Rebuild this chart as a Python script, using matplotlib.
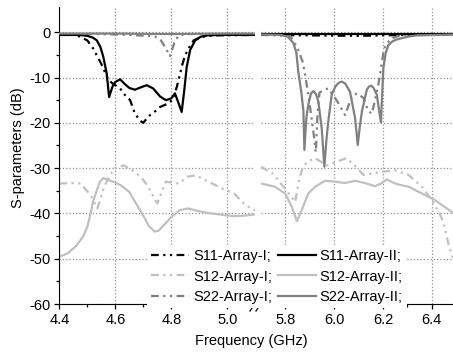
import matplotlib.pyplot as plt
from matplotlib.lines import Line2D

plt.rcParams['font.family'] = ['Liberation Sans', 'DejaVu Sans']
plt.rcParams['axes.unicode_minus'] = False

# ---- lower band, 4.4 - 5.1 GHz ----
s11_1_lo_f = [4.40, 4.46, 4.50, 4.52, 4.55, 4.575, 4.59, 4.617, 4.635, 4.653, 4.67, 4.69, 4.70,
              4.713, 4.724, 4.748, 4.76, 4.79, 4.806, 4.82, 4.83, 4.84, 4.85, 4.867, 4.88, 4.91, 4.95, 5.10]
s11_1_lo_db = [-0.6, -0.6, -1.8, -3.5, -7.0, -10.5, -11.3, -12.4, -13.9, -15.0, -18.0, -19.6, -20.0,
               -19.0, -18.3, -17.2, -16.5, -15.7, -14.8, -12.0, -9.5, -7.0, -5.0, -3.0, -1.8, -1.0, -0.7, -0.6]

s11_2_lo_f = [4.40, 4.47, 4.50, 4.52, 4.534, 4.547, 4.557, 4.569, 4.578, 4.59, 4.60, 4.617, 4.635,
              4.65, 4.67, 4.69, 4.712, 4.735, 4.76, 4.781, 4.80, 4.813, 4.825, 4.837, 4.846, 4.855,
              4.867, 4.885, 4.905, 4.93, 4.97, 5.10]
s11_2_lo_db = [-0.6, -0.6, -0.8, -1.2, -1.8, -3.3, -5.4, -9.0, -14.3, -12.0, -11.0, -10.4, -11.5,
               -12.3, -12.7, -12.2, -11.7, -12.4, -14.2, -15.0, -14.6, -13.5, -15.5, -17.6, -13.0, -7.7,
               -4.0, -1.8, -1.0, -0.7, -0.6, -0.6]

s12_1_lo_f = [4.40, 4.446, 4.476, 4.512, 4.536, 4.56, 4.595, 4.631, 4.661, 4.691, 4.714, 4.75, 4.78,
              4.827, 4.857, 4.887, 4.923, 4.982, 5.024, 5.054, 5.084, 5.10]
s12_1_lo_db = [-33.4, -33.3, -33.4, -36.0, -38.9, -34.1, -30.1, -29.4, -30.5, -31.9, -33.8, -37.8, -33.0,
               -33.4, -31.9, -31.6, -32.7, -34.5, -35.6, -37.5, -38.9, -39.3]

s12_2_lo_f = [4.40, 4.43, 4.46, 4.486, 4.50, 4.51, 4.52, 4.534, 4.545, 4.557, 4.575, 4.60, 4.62,
              4.649, 4.676, 4.70, 4.72, 4.74, 4.755, 4.775, 4.80, 4.83, 4.86, 4.89, 4.93, 4.98, 5.02,
              5.06, 5.10]
s12_2_lo_db = [-49.6, -48.8, -47.2, -45.0, -43.0, -40.5, -37.5, -34.9, -33.0, -32.2, -32.6, -33.2, -33.8,
               -35.2, -38.0, -40.5, -42.8, -44.0, -43.8, -42.5, -40.8, -39.3, -38.9, -39.4, -39.9, -40.3,
               -40.6, -40.5, -40.2]

s22_1_lo_f = [4.40, 4.55, 4.65, 4.74, 4.76, 4.78, 4.795, 4.81, 4.825, 4.85, 5.10]
s22_1_lo_db = [-0.4, -0.4, -0.6, -0.9, -1.5, -3.5, -5.3, -2.5, -0.8, -0.4, -0.4]

s22_2_lo_f = [4.40, 4.60, 4.80, 5.00, 5.10]
s22_2_lo_db = [-0.3, -0.3, -0.4, -0.3, -0.3]

# ---- upper band, 5.7 - 6.5 GHz ----
s11_1_hi_f = [5.70, 5.90, 6.10, 6.30, 6.50]
s11_1_hi_db = [-0.6, -0.7, -0.8, -0.6, -0.5]

s11_2_hi_f = [5.70, 5.90, 6.10, 6.30, 6.50]
s11_2_hi_db = [-0.3, -0.3, -0.3, -0.3, -0.3]

s12_1_hi_f = [5.70, 5.75, 5.78, 5.82, 5.84, 5.855, 5.87, 5.89, 5.922, 5.97, 6.025, 6.05, 6.09, 6.12,
              6.20, 6.25, 6.305, 6.36, 6.40, 6.43, 6.45, 6.47, 6.50]
s12_1_hi_db = [-29.7, -31.3, -33.3, -36.0, -37.5, -33.0, -30.0, -28.6, -27.8, -29.4, -28.3, -27.8, -29.7,
               -31.5, -30.8, -30.5, -31.5, -34.1, -37.0, -39.7, -42.2, -47.0, -52.0]

s12_2_hi_f = [5.70, 5.757, 5.799, 5.826, 5.847, 5.867, 5.894, 5.922, 5.963, 6.004, 6.045, 6.086, 6.127,
              6.168, 6.196, 6.216, 6.25, 6.278, 6.305, 6.36, 6.415, 6.483, 6.50]
s12_2_hi_db = [-33.4, -34.1, -35.6, -38.5, -41.7, -39.3, -35.6, -34.1, -32.8, -33.0, -33.3, -32.8, -33.3,
               -34.0, -33.3, -32.5, -33.4, -33.8, -34.1, -35.6, -37.1, -39.7, -40.3]

s22_1_hi_f = [5.70, 5.82, 5.85, 5.87, 5.88, 5.89, 5.90, 5.915, 5.925, 5.932, 5.94, 5.975, 6.01, 6.045,
              6.074, 6.094, 6.12, 6.14, 6.155, 6.18, 6.19, 6.205, 6.23, 6.27, 6.50]
s22_1_hi_db = [-0.5, -0.8, -3.5, -6.4, -9.0, -12.5, -16.0, -22.0, -26.5, -18.0, -13.3, -12.4, -15.0, -18.3,
               -14.0, -13.5, -14.5, -17.4, -18.0, -12.0, -8.7, -3.6, -1.5, -0.7, -0.5]

s22_2_hi_f = [5.70, 5.78, 5.81, 5.833, 5.845, 5.853, 5.866, 5.874, 5.878, 5.886, 5.894, 5.905, 5.915,
              5.925, 5.935, 5.949, 5.96, 5.968, 5.976, 5.99, 6.005, 6.018, 6.031, 6.045, 6.065, 6.086,
              6.097, 6.105, 6.114, 6.134, 6.143, 6.152, 6.162, 6.175, 6.192, 6.202, 6.212, 6.223,
              6.24, 6.257, 6.30, 6.34, 6.50]
s22_2_hi_db = [-0.5, -0.6, -1.0, -2.4, -4.5, -8.7, -13.5, -17.4, -26.0, -19.0, -16.0, -13.5, -13.0,
               -13.6, -15.2, -21.2, -29.7, -24.0, -19.7, -13.8, -12.0, -11.2, -10.9, -11.3, -13.1, -19.0,
               -24.9, -21.0, -17.5, -12.7, -12.0, -11.8, -12.3, -13.8, -19.9, -7.9, -4.5, -2.8,
               -2.0, -1.6, -1.0, -0.7, -0.5]

labels = ['S11-Array-I;', 'S12-Array-I;', 'S22-Array-I;',
          'S11-Array-II;', 'S12-Array-II;', 'S22-Array-II;']

black = '#000000'
light = '#c0c0c0'
mid = '#808080'
dashdotdot = (0, (3.5, 2, 1, 2, 1, 2))

series = [
    (s11_1_lo_f, s11_1_lo_db, s11_1_hi_f, s11_1_hi_db, black, dashdotdot),
    (s12_1_lo_f, s12_1_lo_db, s12_1_hi_f, s12_1_hi_db, light, dashdotdot),
    (s22_1_lo_f, s22_1_lo_db, s22_1_hi_f, s22_1_hi_db, mid, dashdotdot),
    (s11_2_lo_f, s11_2_lo_db, s11_2_hi_f, s11_2_hi_db, black, '-'),
    (s12_2_lo_f, s12_2_lo_db, s12_2_hi_f, s12_2_hi_db, light, '-'),
    (s22_2_lo_f, s22_2_lo_db, s22_2_hi_f, s22_2_hi_db, mid, '-'),
]
zorders = [3, 2, 3, 4, 2, 5]

W, H = 453, 354
fig = plt.figure(figsize=(W / 100, H / 100), dpi=100)
ax1 = fig.add_axes([59.3 / W, 50 / H, 196 / W, 296.7 / H])
ax2 = fig.add_axes([261 / W, 50 / H, 195 / W, 296.7 / H])

handles = []
for (flo, dlo, fhi, dhi, c, ls), lab, z in zip(series, labels, zorders):
    h, = ax1.plot(flo, dlo, color=c, ls=ls, lw=1.6, label=lab, zorder=z)
    ax2.plot(fhi, dhi, color=c, ls=ls, lw=1.6, zorder=z)
    handles.append(h)

for ax in (ax1, ax2):
    ax.set_ylim(-60, 5.5)
    ax.spines['top'].set_visible(False)
    ax.spines['right'].set_visible(False)
    ax.grid(True, which='major', ls=':', color='#909090', lw=0.9)
    ax.set_yticks(range(-60, 1, 10))
    ax.set_yticks(range(-55, 0, 10), minor=True)
    ax.tick_params(which='major', direction='out', length=3.5, width=0.9, labelsize=10.5, pad=3)
    ax.tick_params(which='minor', direction='out', length=2, width=0.9)

ax1.set_xlim(4.4, 5.1)
ax1.set_xticks([4.4, 4.6, 4.8, 5.0])
ax1.set_xticks([4.5, 4.7, 4.9, 5.1], minor=True)

ax2.set_xlim(5.7, 6.5)
ax2.set_xticks([5.8, 6.0, 6.2, 6.4])
ax2.set_xticks([5.9, 6.1, 6.3, 6.5], minor=True)
ax2.spines['left'].set_visible(False)
ax2.tick_params(axis='y', which='both', left=False, labelleft=False)

ax1.set_ylabel('S-parameters (dB)', fontsize=10.5)
ax1.yaxis.set_label_coords(-0.175, 0.526)
fig.text(251 / W, 1 - 341 / H, 'Frequency (GHz)', ha='center', va='center', fontsize=10.5)

# axis break: bridge the gap and draw the // marks
fig.add_artist(Line2D([255.3 / W, 261 / W], [50 / H, 50 / H], color='k', lw=0.9))
for x0 in (250, 256):
    fig.add_artist(Line2D([x0 / W, (x0 + 6) / W], [1 - 311 / H, 1 - 302 / H], color='k', lw=0.9))

fig.legend(handles, labels, ncol=2, loc='upper left', bbox_to_anchor=(147 / W, 1 - 245 / H),
           frameon=True, facecolor='white', edgecolor='none', framealpha=1, fancybox=False,
           borderpad=0.3, borderaxespad=0, handlelength=2.6, handletextpad=0.25,
           columnspacing=0.4, labelspacing=0.42, fontsize=10.5)

fig.savefig('out.png', dpi=100)
